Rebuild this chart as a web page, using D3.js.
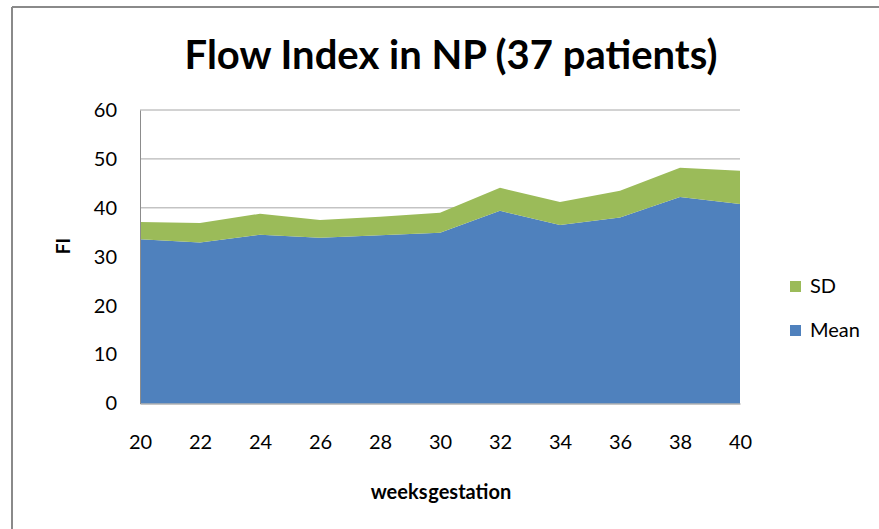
<!DOCTYPE html>
<html>
<head>
<meta charset="utf-8">
<script src="https://cdn.jsdelivr.net/npm/d3@7"></script>
<style>
  body { margin: 0; background: #fff; }
  text { font-family: Lato, "Open Sans", sans-serif; fill: #000; }
</style>
</head>
<body>
<svg id="chart" width="879" height="529"></svg>
<script>
// weeks of gestation and the two stacked series
var weeks = [20, 22, 24, 26, 28, 30, 32, 34, 36, 38, 40];
var meanValues = [33.6, 32.9, 34.5, 33.9, 34.4, 34.9, 39.4, 36.5, 38.0, 42.2, 40.8];
var sdValues = [3.5, 4.0, 4.3, 3.6, 3.8, 4.1, 4.7, 4.7, 5.5, 6.0, 6.8];
var yTicks = [0, 10, 20, 30, 40, 50, 60];
var seriesNames = ["Mean", "SD"];
var seriesColors = {"Mean": "#4F81BD", "SD": "#9BBB59"};

var svg = d3.select("#chart");

// outer frame (only top and left edges show)
svg.append("line").attr("x1", 12).attr("x2", 879).attr("y1", 7).attr("y2", 7)
  .attr("stroke", "#8a8a8a").attr("stroke-width", 2);
svg.append("line").attr("x1", 12).attr("x2", 12).attr("y1", 7).attr("y2", 529)
  .attr("stroke", "#8a8a8a").attr("stroke-width", 2);

var plotLeft = 140, plotRight = 740, plotTop = 110, plotBottom = 403.5;

var xScale = d3.scaleLinear().domain([20, 40]).range([plotLeft, plotRight]);
var yScale = d3.scaleLinear().domain([0, 60]).range([plotBottom, plotTop]);

// gridlines
svg.append("g").selectAll("line")
  .data(yTicks.filter(function (d) { return d > 0; }))
  .enter().append("line")
  .attr("x1", plotLeft).attr("x2", plotRight)
  .attr("y1", function (d) { return yScale(d); })
  .attr("y2", function (d) { return yScale(d); })
  .attr("stroke", "#a6a6a6").attr("stroke-width", 1);

// stack data
var table = weeks.map(function (w, i) {
  return {week: w, Mean: meanValues[i], SD: sdValues[i]};
});
var stacked = d3.stack().keys(seriesNames)(table);

var area = d3.area()
  .x(function (d) { return xScale(d.data.week); })
  .y0(function (d) { return yScale(d[0]); })
  .y1(function (d) { return yScale(d[1]); });

svg.append("g").selectAll("path")
  .data(stacked)
  .enter().append("path")
  .attr("d", area)
  .attr("fill", function (d) { return seriesColors[d.key]; });

// axes
var yAxis = d3.axisLeft(yScale).tickValues(yTicks).tickSize(0).tickPadding(23);
var gy = svg.append("g").attr("transform", "translate(" + plotLeft + ",0)").call(yAxis);
gy.select(".domain").attr("stroke", "#8c8c8c");
gy.selectAll("text").style("font-size", "20px").attr("fill", "#1a1a1a");

var xAxis = d3.axisBottom(xScale).tickValues(weeks).tickSize(0).tickPadding(31);
var gx = svg.append("g").attr("transform", "translate(0," + plotBottom + ")").call(xAxis);
gx.select(".domain").attr("stroke", "#8c8c8c");
gx.selectAll("text").style("font-size", "20px").attr("fill", "#1a1a1a");

// titles
svg.append("text").attr("x", 451).attr("y", 69).attr("text-anchor", "middle")
  .style("font-size", "40px").style("font-weight", "bold")
  .text("Flow Index in NP (37 patients)");

svg.append("text").attr("transform", "translate(70,246) rotate(-90)")
  .attr("text-anchor", "middle")
  .style("font-size", "19px").style("font-weight", "bold")
  .text("FI");

svg.append("text").attr("x", 441).attr("y", 499).attr("text-anchor", "middle")
  .style("font-size", "20px").style("font-weight", "bold").style("word-spacing", "-4px")
  .text("weeks gestation");

// legend, SD on top
var legend = svg.append("g").selectAll("g")
  .data(["SD", "Mean"])
  .enter().append("g")
  .attr("transform", function (d, i) { return "translate(790," + (281 + i * 44) + ")"; });
legend.append("rect").attr("width", 11).attr("height", 11)
  .attr("fill", function (d) { return seriesColors[d]; });
legend.append("text").attr("x", 20).attr("y", 12)
  .style("font-size", "20px").attr("fill", "#1a1a1a")
  .text(function (d) { return d; });
</script>
</body>
</html>
